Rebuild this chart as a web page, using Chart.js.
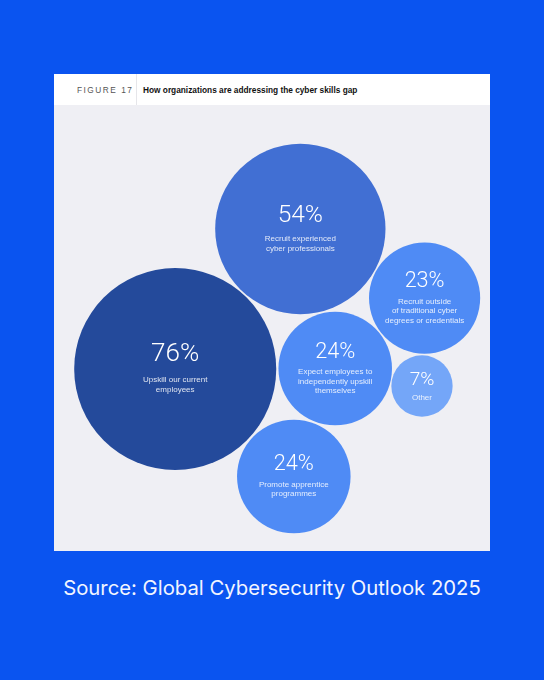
<!DOCTYPE html>
<html>
<head>
<meta charset="utf-8">
<script src="https://cdn.jsdelivr.net/npm/chart.js@4.4.1/dist/chart.umd.min.js"></script>
<style>
  html, body { margin: 0; padding: 0; }
  body { width: 544px; height: 680px; background: #0a54f0; position: relative; overflow: hidden; font-family: "Liberation Sans", Arial, sans-serif; }
  .panel { position: absolute; left: 54px; top: 74px; width: 436px; height: 477px; background: #efeff4; }
  .head { position: absolute; left: 0; top: 0; width: 436px; height: 31px; background: #fff; }
  .fig { position: absolute; left: 23px; top: 0; height: 31px; line-height: 33px; font-size: 8.3px; letter-spacing: 1.5px; color: #555; }
  .divider { position: absolute; left: 82px; top: 0; width: 1px; height: 31px; background: #e6e6ea; }
  .title { position: absolute; left: 89px; top: 0; height: 31px; line-height: 33px; font-size: 8.3px; font-weight: bold; color: #111; }
  .plot { position: absolute; left: 0; top: 31px; width: 436px; height: 446px; }
  .source { position: absolute; left: 0; width: 544px; top: 575px; text-align: center; color: #f2f5ff; font-family: Inter, "Noto Sans", sans-serif; font-size: 20.3px; }
</style>
</head>
<body>
<div class="panel">
  <div class="head">
    <div class="fig">FIGURE 17</div>
    <div class="divider"></div>
    <div class="title">How organizations are addressing the cyber skills gap</div>
  </div>
  <div class="plot"><canvas id="chart"></canvas></div>
</div>
<div class="source">Source: Global Cybersecurity Outlook 2025</div>

<script>
// values (share of organizations, %)
const labels = [
  ['Upskill our current', 'employees'],
  ['Recruit experienced', 'cyber professionals'],
  ['Recruit outside', 'of traditional cyber', 'degrees or credentials'],
  ['Expect employees to', 'independently upskill', 'themselves'],
  ['Other'],
  ['Promote apprentice', 'programmes']
];
const values = [76, 54, 23, 24, 7, 24];
// bubble placement on a 0-100 grid
const posX = [27.8, 56.5, 85.0, 64.5, 84.4, 55.0];
const posY = [40.8, 72.2, 56.7, 40.9, 37.0, 16.7];
const colors = ['#244a9b', '#416fd3', '#4f8bf5', '#4f8bf5', '#74a6f8', '#4f8bf5'];

const PLOT_W = 436;
const R_SCALE = PLOT_W * 0.02658; // px per sqrt(%) so area follows the value

function $(id){ return document.getElementById(id); }

const bubbleText = {
  id: 'bubbleText',
  afterDatasetsDraw(chart){
    const ctx = chart.ctx;
    const meta = chart.getDatasetMeta(0);
    meta.data.forEach((el, i) => {
      const r = R_SCALE * Math.sqrt(values[i]);
      const numSize = 16 + 0.1 * r;
      const lines = labels[i];
      const lh = 9.5;
      const gap = 0.12 * r + 13;
      const numY = el.y + 3 - (gap + (lines.length - 1) * lh) / 2;
      ctx.save();
      ctx.textAlign = 'center';
      ctx.textBaseline = 'middle';
      ctx.fillStyle = '#ffffff';
      ctx.font = `300 ${numSize.toFixed(1)}px Roboto, "Liberation Sans", sans-serif`;
      ctx.fillText(values[i] + '%', el.x, numY);
      ctx.fillStyle = 'rgba(255,255,255,0.85)';
      ctx.font = '8px "Liberation Sans", Arial, sans-serif';
      lines.forEach((t, j) => ctx.fillText(t, el.x, numY + gap + j * lh));
      ctx.restore();
    });
  }
};

new Chart($('chart').getContext('2d'), {
  type: 'bubble',
  data: {
    datasets: [{
      data: values.map((v, i) => ({ x: posX[i], y: posY[i], r: R_SCALE * Math.sqrt(v) })),
      backgroundColor: colors,
      borderWidth: 0,
      hoverRadius: 0,
      clip: false
    }]
  },
  options: {
    responsive: true,
    maintainAspectRatio: false,
    animation: false,
    events: [],
    layout: { padding: 0, autoPadding: false },
    plugins: { legend: { display: false }, tooltip: { enabled: false } },
    scales: {
      x: { type: 'linear', min: 0, max: 100, display: false },
      y: { type: 'linear', min: 0, max: 100, display: false }
    }
  },
  plugins: [bubbleText]
});
</script>
</body>
</html>
